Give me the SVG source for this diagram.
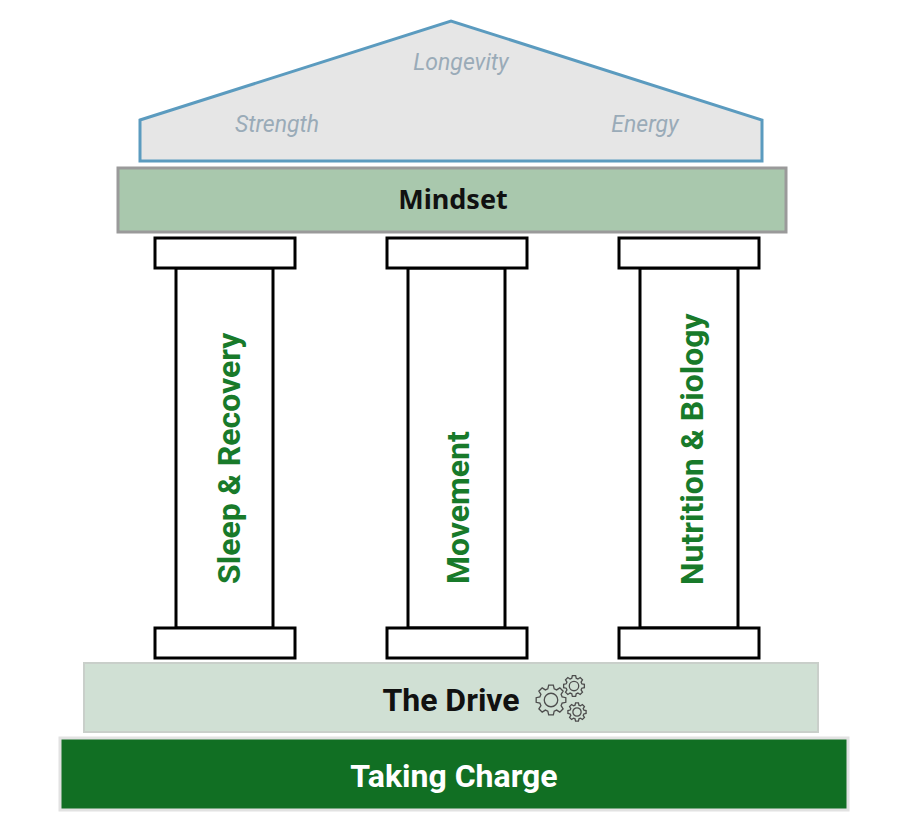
<svg xmlns="http://www.w3.org/2000/svg" width="909" height="840" viewBox="0 0 909 840">
<style>
.cap{fill:#fff;stroke:#000;stroke-width:3}
.col{fill:#fff;stroke:#000;stroke-width:3}
.plabel{font-family:Roboto,"Liberation Sans",sans-serif;font-weight:700;font-size:32px;fill:#187a2a}
.roof{font-family:Roboto,"Liberation Sans",sans-serif;font-style:italic;font-size:23px;fill:#9aabb8;text-anchor:middle}
.band{font-family:Roboto,"Liberation Sans",sans-serif;font-weight:700;font-size:32px;text-anchor:middle}
</style>
<defs>
<path id="gearShape" fill="none" stroke="#4d4d4d" stroke-width="1.3" vector-effect="non-scaling-stroke" d="M74,-21.2 L98.8,-15.6 L98.8,15.6 L74,21.2 L67.3,37.3 L80.9,58.8 L58.8,80.9 L37.3,67.3 L21.2,74 L15.6,98.8 L-15.6,98.8 L-21.2,74 L-37.3,67.3 L-58.8,80.9 L-80.9,58.8 L-67.3,37.3 L-74,21.2 L-98.8,15.6 L-98.8,-15.6 L-74,-21.2 L-67.3,-37.3 L-80.9,-58.8 L-58.8,-80.9 L-37.3,-67.3 L-21.2,-74 L-15.6,-98.8 L15.6,-98.8 L21.2,-74 L37.3,-67.3 L58.8,-80.9 L80.9,-58.8 L67.3,-37.3 Z M45,0 A45,45 0 1,0 -45,0 A45,45 0 1,0 45,0 Z"/>
</defs>
<rect width="909" height="840" fill="#fff"/>
<g id="roof">
<polygon points="140,120 451,21 762,120 762,161 140,161" fill="#e6e6e6" stroke="#5b9bbf" stroke-width="3"/>
<text class="roof" x="461" y="70">Longevity</text>
<text class="roof" x="277" y="132">Strength</text>
<text class="roof" x="645" y="132">Energy</text>
</g>
<g id="mindset">
<rect x="118" y="168" width="668" height="64" fill="#a9c8ad" stroke="#9a9a9a" stroke-width="3"/>
<text x="453" y="209" font-family="'Noto Sans','Open Sans',sans-serif" font-weight="700" font-size="27" text-anchor="middle" fill="#111">Mindset</text>
</g>
<g id="pillar-sleep">
<rect class="col" x="176" y="268" width="97" height="360"/>
<rect class="cap" x="155" y="238" width="140" height="30"/>
<rect class="cap" x="155" y="628" width="140" height="30"/>
<text class="plabel" transform="translate(240,584) rotate(-90)">Sleep &amp; Recovery</text>
</g>
<g id="pillar-movement">
<rect class="col" x="408" y="268" width="97" height="360"/>
<rect class="cap" x="387" y="238" width="140" height="30"/>
<rect class="cap" x="387" y="628" width="140" height="30"/>
<text class="plabel" transform="translate(469,584) rotate(-90)">Movement</text>
</g>
<g id="pillar-nutrition">
<rect class="col" x="640" y="268" width="98" height="360"/>
<rect class="cap" x="619" y="238" width="140" height="30"/>
<rect class="cap" x="619" y="628" width="140" height="30"/>
<text class="plabel" transform="translate(703,585) rotate(-90)" font-size="31">Nutrition &amp; Biology</text>
</g>
<g id="the-drive">
<rect x="84" y="663" width="734" height="69" fill="#d0e0d4" stroke="#c9cfca" stroke-width="2"/>
<text class="band" x="451" y="711" fill="#111">The Drive</text>
<g id="gears">
<use href="#gearShape" transform="translate(551,700) scale(0.15)"/>
<use href="#gearShape" transform="translate(574,686) scale(0.105)"/>
<use href="#gearShape" transform="translate(577,712) scale(0.092)"/>
</g>
</g>
<g id="taking-charge">
<rect x="60" y="738" width="788" height="72" fill="#116f23" stroke="#e2e2e2" stroke-width="3"/>
<text class="band" x="454" y="787" fill="#fff">Taking Charge</text>
</g>
</svg>
